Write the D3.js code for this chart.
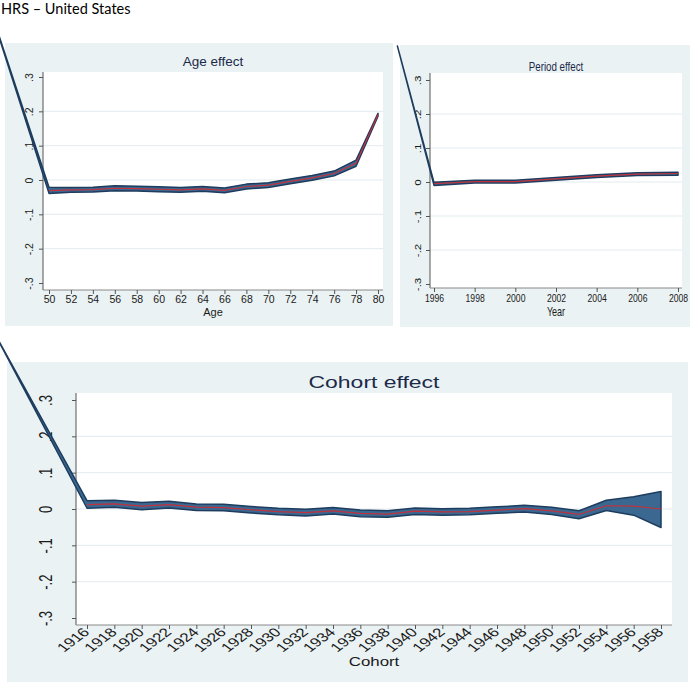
<!DOCTYPE html>
<html><head><meta charset="utf-8">
<script src="https://cdn.jsdelivr.net/npm/d3@7"></script>
<style>
html,body{margin:0;padding:0;background:#fff;}
text{font-family:"Liberation Sans",Arial,sans-serif;}
</style></head>
<body>
<svg id="chart" width="690" height="682"></svg>
<script>
// ---------- DATA ----------
const figureTitle = "HRS – United States";
const yTickValues = [-0.3,-0.2,-0.1,0,0.1,0.2,0.3];
const yTickLabels = ["-.3","-.2","-.1","0",".1",".2",".3"];
const gridValues = [-0.2,-0.1,0,0.1,0.2];

const ages   = [50,52,54,56,58,60,62,64,66,68,70,72,74,76,78,80];
const ageEst = [-0.031,-0.029,-0.028,-0.024,-0.025,-0.027,-0.029,-0.026,-0.030,-0.019,-0.015,-0.004,0.006,0.019,0.049,0.190];
const ageLo  = [-0.039,-0.036,-0.035,-0.031,-0.032,-0.034,-0.036,-0.033,-0.037,-0.026,-0.022,-0.011,-0.001,0.012,0.040,0.186];
const ageHi  = [-0.021,-0.022,-0.021,-0.017,-0.018,-0.020,-0.022,-0.019,-0.023,-0.012,-0.008,0.003,0.013,0.026,0.058,0.194];
const ageLead = [44, 0.56];   // stray leading segment visible in the figure

const years     = [1996,1998,2000,2002,2004,2006,2008];
const periodEst = [-0.005,0.001,0.001,0.009,0.017,0.023,0.025];
const periodLo  = [-0.010,-0.003,-0.003,0.005,0.013,0.019,0.020];
const periodHi  = [-0.001,0.005,0.005,0.013,0.021,0.027,0.029];
const periodLead = [1994.2, 0.40];

const cohorts   = [1916,1918,1920,1922,1924,1926,1928,1930,1932,1934,1936,1938,1940,1942,1944,1946,1948,1950,1952,1954,1956,1958];
const cohortEst = [0.012,0.014,0.008,0.012,0.005,0.004,-0.002,-0.007,-0.010,-0.005,-0.012,-0.014,-0.006,-0.008,-0.007,-0.003,0.001,-0.005,-0.015,0.009,0.008,0.000];
const cohortLo  = [0.002,0.005,-0.002,0.003,-0.004,-0.005,-0.011,-0.016,-0.019,-0.014,-0.021,-0.023,-0.015,-0.017,-0.016,-0.012,-0.008,-0.015,-0.027,-0.004,-0.017,-0.051];
const cohortHi  = [0.023,0.024,0.018,0.021,0.014,0.013,0.007,0.002,-0.001,0.004,-0.003,-0.005,0.003,0.001,0.002,0.006,0.010,0.005,-0.005,0.024,0.034,0.048];
const cohortLead = [1909, 0.50];

// ---------- STYLE ----------
const BG = "#eaf2f3", BAND = "#3b6891", BANDLINE = "#1d3c5e", EST = "#c0323c";
const TITLE = "#1b2a4a", TXT = "#1a1a1a", AXIS = "#555", GRID = "#e2ebee";

const svg = d3.select("#chart");

svg.append("text").attr("x",1).attr("y",14)
  .style("font-family","Lato, 'Open Sans', sans-serif").style("font-size","14.5px")
  .attr("fill","#000").text(figureTitle);

const panels = [
  { bg:[5,43,388,283], plot:[43,72,340,218], xr:[49,378], yr:[283,77],
    xs:ages, est:ageEst, lo:ageLo, hi:ageHi, lead:ageLead,
    title:"Age effect", tx:213, ty:66, tsize:13.5, sx:1,
    xlab:"Age", xly:316, xlsize:11, tick:10.5, ylOff:10, ylSize:10.5, rotX:false },
  { bg:[400,45,290,282], plot:[430,73,252,215], xr:[434,678], yr:[284,80],
    xs:years, est:periodEst, lo:periodLo, hi:periodHi, lead:periodLead,
    title:"Period effect", tx:556, ty:71, tsize:13, sx:0.75,
    xlab:"Year", xly:316, xlsize:12, tick:11.5, ylOff:9, ylSize:11.5, rotX:false },
  { bg:[7,362,681,320], plot:[76,393,596,232], xr:[87,661], yr:[618,400],
    xs:cohorts, est:cohortEst, lo:cohortLo, hi:cohortHi, lead:cohortLead,
    title:"Cohort effect", tx:374, ty:388, tsize:17, sx:1.35,
    xlab:"Cohort", xly:666, xlsize:12.5, tick:12.5, ylOff:24, ylSize:13, rotX:true }
];

// backgrounds first
panels.forEach(p=>{
  svg.append("rect").attr("x",p.bg[0]).attr("y",p.bg[1]).attr("width",p.bg[2]).attr("height",p.bg[3]).attr("fill",BG);
});

panels.forEach(p=>{
  const g = svg.append("g");
  const x = d3.scaleLinear().domain([p.xs[0], p.xs[p.xs.length-1]]).range(p.xr);
  const y = d3.scaleLinear().domain([-0.3,0.3]).range(p.yr);
  const [px,py,pw,ph] = p.plot;
  g.append("rect").attr("x",px).attr("y",py).attr("width",pw).attr("height",ph).attr("fill","#fff");

  // grid
  g.selectAll("line.grid").data(gridValues).join("line")
    .attr("x1",px).attr("x2",px+pw).attr("y1",d=>y(d)).attr("y2",d=>y(d))
    .attr("stroke",GRID).attr("stroke-width",1);

  // y axis
  const ya = g.append("g").attr("transform",`translate(${px},0)`)
    .call(d3.axisLeft(y).tickValues(yTickValues).tickFormat((d,i)=>yTickLabels[i]).tickSize(4).tickSizeOuter(0));
  ya.select(".domain").attr("d",`M0,${py}V${py+ph}`).attr("stroke",AXIS);
  ya.selectAll(".tick line").attr("stroke",AXIS);
  ya.selectAll(".tick text").attr("x",null).attr("dy",null).attr("y",0)
    .attr("text-anchor","middle").attr("fill",TXT)
    .style("font-size",p.ylSize+"px")
    .attr("transform",`translate(${-p.ylOff},0) scale(${p.sx},1) rotate(-90)`);

  // x axis
  const xa = g.append("g").attr("transform",`translate(0,${py+ph})`)
    .call(d3.axisBottom(x).tickValues(p.xs).tickFormat(d3.format("d")).tickSize(4).tickSizeOuter(0));
  xa.select(".domain").attr("d",`M${px},0H${px+pw}`).attr("stroke","#888");
  xa.selectAll(".tick line").attr("stroke",AXIS);
  if (p.rotX) {
    xa.selectAll(".tick text").attr("x",null).attr("y",0).attr("dy",null)
      .attr("text-anchor","end").attr("fill",TXT).style("font-size",p.tick+"px")
      .attr("transform",`translate(3,8) scale(${p.sx},1) rotate(-45)`);
  } else {
    xa.selectAll(".tick text").attr("y",6).attr("fill",TXT).style("font-size",p.tick+"px")
      .attr("transform",`scale(${p.sx},1)`);
  }

  // band (including stray leading point)
  const bandData = [{x:p.lead[0], lo:p.lead[1], hi:p.lead[1]}]
    .concat(p.xs.map((v,i)=>({x:v, lo:p.lo[i], hi:p.hi[i]})));
  g.append("path").datum(bandData)
    .attr("d", d3.area().x(d=>x(d.x)).y0(d=>y(d.lo)).y1(d=>y(d.hi)))
    .attr("fill",BAND).attr("stroke",BANDLINE).attr("stroke-width",1.5).attr("stroke-linejoin","round");

  // estimate line
  g.append("path").datum(p.xs.map((v,i)=>({x:v, y:p.est[i]})))
    .attr("d", d3.line().x(d=>x(d.x)).y(d=>y(d.y)))
    .attr("fill","none").attr("stroke",EST).attr("stroke-width",1.2);

  // titles
  g.append("text").attr("transform",`translate(${p.tx},${p.ty}) scale(${p.sx},1)`)
    .attr("text-anchor","middle").attr("fill",TITLE).style("font-size",p.tsize+"px").text(p.title);
  g.append("text").attr("transform",`translate(${p.tx},${p.xly}) scale(${p.sx},1)`)
    .attr("text-anchor","middle").attr("fill",TXT).style("font-size",p.xlsize+"px").text(p.xlab);
});
</script>
</body></html>
